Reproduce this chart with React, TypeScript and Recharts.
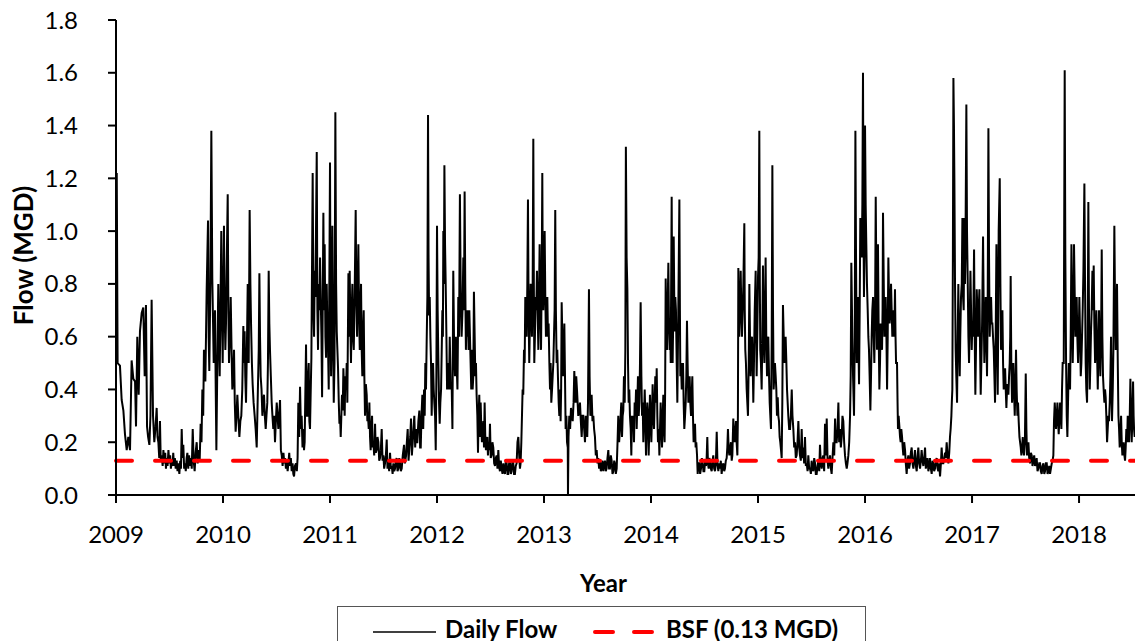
import React from 'react';
import { LineChart, Line, XAxis, YAxis, ReferenceLine } from 'recharts';

const START_YEAR = 2009;
const END_YEAR = 2018.523;
const yearTicks = [2009, 2010, 2011, 2012, 2013, 2014, 2015, 2016, 2017, 2018];
const flowTicks = [0, 0.2, 0.4, 0.6, 0.8, 1.0, 1.2, 1.4, 1.6, 1.8];
const BSF = 0.13;
const seriesNames = ['Daily Flow', 'BSF (0.13 MGD)'];

// [years since 1 Jan 2009, flow in MGD]
const dailyFlowReadings: [number, number][] = [
  [0.007,1.22],[0.015,0.5],[0.037,0.49],[0.053,0.36],[0.069,0.32],[0.084,0.23],[0.1,0.17],[0.115,0.22],[0.131,0.17],[0.146,0.51],[0.162,0.44],[0.178,0.43],[0.187,0.26],[0.199,0.6],[0.212,0.38],[0.224,0.62],[0.24,0.69],[0.255,0.71],[0.268,0.45],[0.28,0.72],[0.29,0.26],[0.3,0.22],[0.312,0.19],[0.322,0.3],[0.333,0.74],[0.346,0.3],[0.358,0.2],[0.37,0.26],[0.38,0.33],[0.388,0.22],[0.396,0.2],
  [0.404,0.14],[0.411,0.28],[0.418,0.13],[0.427,0.15],[0.436,0.11],[0.443,0.17],[0.452,0.12],[0.46,0.16],[0.467,0.1],[0.474,0.14],[0.482,0.11],[0.49,0.17],[0.498,0.12],[0.506,0.15],[0.513,0.1],[0.52,0.13],[0.528,0.11],[0.535,0.16],[0.542,0.11],[0.55,0.14],[0.558,0.1],[0.567,0.13],[0.575,0.09],[0.583,0.12],[0.592,0.08],[0.6,0.13],[0.607,0.1],[0.614,0.25],[0.621,0.14],[0.629,0.19],[0.637,0.1],[0.645,0.12],[0.652,0.09],[0.66,0.14],[0.667,0.16],[0.675,0.1],[0.683,0.15],[0.692,0.11],[0.7,0.14],[0.708,0.1],[0.717,0.25],[0.726,0.13],[0.735,0.09],[0.744,0.16],[0.754,0.2],[0.763,0.12],[0.773,0.17],[0.782,0.13],[0.791,0.27],[0.799,0.2],
  [0.807,0.4],[0.815,0.3],[0.822,0.55],[0.835,0.43],[0.847,0.77],[0.86,1.04],[0.866,0.6],[0.872,0.47],[0.882,0.8],[0.891,1.38],[0.9,0.82],[0.907,0.65],[0.913,0.5],[0.925,0.7],[0.932,0.4],[0.938,0.17],[0.947,0.5],[0.956,0.8],[0.962,0.6],[0.969,0.45],[0.976,0.7],[0.984,1.0],[0.99,0.7],[0.997,0.5],[1.003,0.75],[1.009,1.02],[1.015,0.7],[1.022,0.55],[1.028,0.65],[1.034,0.85],[1.044,1.14],[1.05,0.7],[1.056,0.5],[1.064,0.6],[1.072,0.75],[1.08,0.55],[1.087,0.4],[1.095,0.45],[1.103,0.55],[1.11,0.35],[1.118,0.24],[1.126,0.3],[1.134,0.38],[1.143,0.3],[1.153,0.22],[1.162,0.28],[1.171,0.3],[1.18,0.4],[1.19,0.64],[1.196,0.5],[1.202,0.62],[1.208,0.45],[1.215,0.35],[1.223,0.55],[1.231,0.8],[1.236,0.6],[1.24,0.5],[1.249,1.08],[1.256,0.8],[1.262,0.65],[1.27,0.5],[1.277,0.42],[1.286,0.35],[1.296,0.3],[1.305,0.25],[1.315,0.18],[1.321,0.3],[1.327,0.42],[1.334,0.55],[1.34,0.84],[1.346,0.6],[1.352,0.45],[1.36,0.4],[1.368,0.3],[1.375,0.35],[1.383,0.38],[1.391,0.3],[1.399,0.25],[1.406,0.3],[1.414,0.35],[1.42,0.5],[1.427,0.85],[1.433,0.65],[1.439,0.55],[1.447,0.45],[1.455,0.35],[1.462,0.3],[1.47,0.25],[1.478,0.3],[1.486,0.2],[1.494,0.28],[1.502,0.35],[1.51,0.3],[1.517,0.25],
  [1.525,0.3],[1.533,0.36],[1.541,0.17],[1.549,0.15],[1.557,0.11],[1.565,0.16],[1.573,0.12],[1.58,0.14],[1.588,0.1],[1.596,0.13],[1.604,0.09],[1.611,0.12],[1.619,0.16],[1.626,0.11],[1.634,0.14],[1.642,0.09],[1.65,0.12],[1.657,0.08],[1.664,0.07],[1.672,0.11],[1.682,0.12],[1.69,0.09],[1.697,0.14],[1.704,0.35],[1.712,0.22],[1.72,0.41],[1.728,0.25],[1.735,0.3],[1.743,0.18],[1.751,0.25],[1.757,0.17],[1.763,0.2],[1.776,0.57],[1.782,0.3],[1.788,0.3],[1.795,0.45],[1.801,0.5],[1.807,0.28],[1.813,0.25],[1.82,0.4],[1.826,0.52],[1.838,1.22],[1.845,0.7],[1.851,0.6],[1.857,0.85],[1.863,0.75],[1.876,1.3],[1.882,0.7],[1.888,0.55],[1.895,0.8],[1.901,0.7],[1.907,0.9],[1.913,0.75],[1.92,0.6],[1.926,0.37],[1.938,1.07],[1.944,0.7],[1.95,0.95],[1.957,0.6],[1.963,0.52],[1.969,0.8],[1.975,0.65],[1.982,0.55],[1.988,0.4],[2.0,1.26],[2.005,0.7],[2.01,0.45],[2.016,0.6],[2.022,1.02],[2.029,0.6],[2.035,0.35],[2.042,0.5],[2.05,1.45],[2.057,0.8],[2.063,0.62],[2.069,0.55],[2.075,0.48],[2.082,0.35],[2.088,0.27],[2.094,0.3],[2.1,0.22],[2.106,0.3],[2.112,0.38],[2.119,0.32],[2.125,0.48],[2.131,0.4],[2.137,0.3],[2.143,0.45],[2.15,0.4],[2.156,0.5],[2.162,0.35],[2.172,0.84],[2.178,0.6],[2.184,0.85],[2.19,0.65],[2.196,0.5],[2.203,0.7],[2.209,0.8],[2.215,0.6],[2.222,0.55],[2.23,0.75],[2.24,1.08],[2.246,0.75],[2.253,0.6],[2.259,0.8],[2.265,0.95],[2.271,0.7],[2.278,0.55],[2.284,0.7],[2.29,0.8],[2.296,0.55],[2.302,0.45],[2.308,0.6],[2.315,0.7],[2.321,0.45],[2.327,0.3],[2.335,0.42],[2.343,0.38],[2.349,0.28],[2.355,0.3],[2.362,0.25],[2.368,0.35],[2.374,0.22],[2.38,0.17],[2.386,0.25],[2.393,0.3],[2.399,0.18],[2.405,0.2],[2.413,0.15],[2.421,0.27],[2.428,0.16],[2.436,0.17],[2.444,0.22],[2.452,0.2],[2.46,0.13],[2.467,0.14],[2.475,0.17],[2.483,0.25],[2.491,0.13],[2.499,0.15],[2.506,0.1],[2.514,0.12],[2.522,0.15],[2.53,0.21],[2.537,0.1],[2.545,0.13],[2.553,0.09],[2.561,0.16],[2.569,0.1],[2.577,0.11],[2.585,0.08],[2.592,0.12],[2.6,0.09],[2.608,0.1],[2.616,0.13],[2.623,0.14],[2.631,0.09],[2.639,0.1],[2.647,0.14],[2.654,0.12],[2.662,0.09],[2.67,0.1],[2.68,0.15],[2.692,0.19],[2.7,0.12],[2.711,0.15],[2.718,0.2],[2.726,0.25],[2.734,0.13],[2.742,0.18],[2.75,0.22],[2.757,0.29],[2.765,0.15],[2.773,0.2],[2.78,0.25],[2.788,0.3],[2.796,0.18],[2.804,0.25],[2.81,0.2],[2.816,0.2],[2.826,0.28],[2.835,0.32],[2.842,0.18],[2.848,0.18],[2.855,0.3],[2.863,0.38],[2.871,0.25],[2.879,0.4],[2.885,0.3],[2.891,0.5],[2.897,0.4],[2.904,0.6],[2.91,0.75],[2.916,1.44],[2.921,0.9],[2.926,0.68],[2.932,0.75],[2.938,0.6],[2.944,0.5],[2.95,0.3],[2.957,0.45],[2.963,0.5],[2.969,0.4],[2.975,0.35],[2.982,0.3],[2.988,0.17],[2.994,0.45],[3.0,1.02],[3.006,0.7],[3.013,0.5],[3.019,0.35],[3.025,0.27],[3.031,0.35],[3.038,0.4],[3.044,0.55],[3.05,0.7],[3.055,0.6],[3.059,1.0],[3.064,0.8],[3.069,1.25],[3.075,0.95],[3.081,0.8],[3.088,0.6],[3.094,0.4],[3.1,0.45],[3.106,0.5],[3.112,0.4],[3.119,0.6],
  [3.129,0.4],[3.137,0.42],[3.144,0.25],[3.152,0.85],[3.16,0.55],[3.168,0.45],[3.176,0.6],[3.183,0.5],[3.191,0.4],[3.199,0.75],[3.206,0.6],[3.214,1.14],[3.222,0.75],[3.23,0.6],[3.238,0.7],[3.246,0.9],[3.252,0.7],[3.258,1.15],[3.264,0.8],[3.27,0.55],[3.277,0.7],[3.283,0.6],[3.289,0.7],[3.295,0.55],[3.302,0.7],[3.308,0.6],[3.314,0.5],[3.32,0.4],[3.327,0.55],[3.333,0.4],[3.339,0.45],[3.345,0.77],[3.352,0.6],[3.358,0.45],[3.364,0.5],[3.37,0.38],[3.377,0.3],[3.383,0.16],[3.389,0.3],[3.395,0.38],[3.402,0.22],[3.408,0.35],[3.414,0.25],[3.42,0.2],[3.427,0.25],[3.433,0.28],[3.439,0.18],[3.445,0.35],[3.451,0.22],[3.457,0.17],[3.463,0.2],[3.47,0.22],[3.476,0.15],[3.482,0.2],[3.489,0.17],[3.495,0.27],[3.502,0.14],[3.51,0.15],[3.518,0.2],[3.526,0.18],[3.534,0.12],[3.542,0.11],[3.55,0.14],[3.557,0.15],[3.565,0.1],[3.573,0.17],[3.58,0.11],[3.588,0.09],[3.596,0.13],[3.604,0.1],[3.612,0.08],[3.62,0.12],[3.627,0.09],[3.635,0.08],[3.643,0.13],[3.651,0.12],[3.659,0.08],[3.666,0.08],[3.674,0.12],[3.682,0.12],[3.69,0.08],[3.697,0.09],[3.705,0.13],[3.713,0.12],[3.72,0.08],[3.728,0.08],[3.736,0.11],[3.744,0.12],[3.752,0.2],[3.76,0.22],[3.768,0.15],[3.775,0.1],[3.781,0.12],[3.788,0.2],[3.794,0.3],[3.8,0.4],[3.806,0.38],[3.813,0.55],[3.819,0.5],[3.825,0.75],[3.831,0.65],[3.838,0.6],[3.844,0.8],[3.85,1.12],[3.856,0.7],[3.862,0.5],[3.868,0.65],[3.875,0.8],[3.881,0.7],[3.887,0.6],[3.894,0.8],[3.9,1.35],[3.905,0.8],[3.909,0.5],[3.915,0.6],[3.922,0.75],[3.928,0.7],[3.934,0.85],[3.94,0.7],[3.947,0.55],[3.953,0.75],[3.959,0.95],[3.965,0.7],[3.972,0.55],[3.978,0.8],[3.984,1.22],[3.988,0.85],[3.993,0.7],[3.999,0.8],[4.006,1.0],[4.012,0.75],[4.018,0.6],[4.024,0.7],[4.031,0.75],[4.037,0.6],[4.043,0.65],[4.05,0.5],[4.056,0.4],[4.062,0.5],[4.068,0.35],[4.075,0.4],[4.081,0.45],[4.087,0.5],[4.093,0.6],[4.099,0.7],[4.105,1.08],[4.111,0.7],[4.118,0.5],[4.124,0.55],[4.13,0.45],[4.137,0.35],[4.143,0.3],[4.149,0.4],[4.155,0.28],[4.16,0.4],[4.165,0.73],[4.171,0.6],[4.177,0.45],[4.184,0.55],[4.19,0.65],[4.196,0.45],[4.202,0.25],[4.209,0.3],[4.215,0.2],[4.222,0.18],[4.224,0.0],[4.229,0.22],[4.236,0.3],[4.244,0.25],[4.252,0.33],[4.26,0.3],[4.268,0.28],[4.276,0.35],[4.283,0.47],[4.289,0.4],[4.295,0.35],[4.301,0.45],[4.308,0.4],[4.314,0.35],[4.32,0.3],[4.328,0.32],[4.336,0.35],[4.344,0.28],[4.352,0.22],[4.36,0.3],[4.367,0.3],[4.375,0.25],[4.383,0.2],[4.39,0.3],[4.398,0.25],[4.404,0.22],[4.411,0.35],[4.42,0.78],[4.426,0.45],[4.433,0.3],[4.439,0.35],[4.445,0.38],[4.453,0.28],[4.461,0.3],[4.468,0.25],[4.476,0.22],[4.484,0.15],[4.492,0.17],[4.5,0.12],[4.507,0.14],[4.515,0.1],[4.523,0.13],[4.531,0.09],[4.539,0.1],[4.546,0.13],[4.554,0.09],[4.562,0.12],[4.57,0.13],[4.577,0.09],[4.585,0.1],[4.593,0.14],[4.601,0.17],[4.608,0.1],[4.616,0.1],[4.624,0.15],[4.632,0.13],[4.64,0.08],[4.648,0.09],[4.656,0.13],[4.663,0.12],[4.671,0.08],[4.679,0.1],[4.687,0.2],[4.694,0.3],[4.702,0.2],[4.71,0.25],
  [4.716,0.3],[4.722,0.35],[4.729,0.22],[4.735,0.3],[4.741,0.32],[4.747,0.45],[4.754,0.35],[4.76,0.55],[4.765,1.32],[4.772,0.9],[4.779,0.78],[4.785,0.5],[4.791,0.35],[4.797,0.4],[4.803,0.3],[4.81,0.25],[4.816,0.15],[4.822,0.3],[4.828,0.25],[4.835,0.3],[4.841,0.2],[4.847,0.35],[4.853,0.3],[4.86,0.4],[4.866,0.25],[4.872,0.35],[4.878,0.45],[4.885,0.3],[4.891,0.35],[4.897,0.5],[4.903,0.73],[4.91,0.45],[4.916,0.3],[4.922,0.35],[4.928,0.2],[4.935,0.3],[4.941,0.4],[4.947,0.3],[4.953,0.15],[4.959,0.25],[4.965,0.35],[4.972,0.3],[4.978,0.15],[4.984,0.25],[4.99,0.38],[4.997,0.3],[5.003,0.2],[5.009,0.3],[5.015,0.42],[5.022,0.3],[5.028,0.25],[5.034,0.35],[5.04,0.45],[5.047,0.35],[5.053,0.48],[5.059,0.3],[5.065,0.2],[5.072,0.25],[5.078,0.15],[5.084,0.25],[5.09,0.35],[5.097,0.25],[5.103,0.18],[5.109,0.3],[5.115,0.38],[5.121,0.25],[5.127,0.2],[5.132,0.4],[5.137,0.82],[5.143,0.65],[5.149,0.55],[5.155,0.7],[5.162,0.88],[5.168,0.65],[5.174,0.55],[5.179,0.65],[5.184,0.5],[5.193,1.13],[5.198,0.7],[5.202,0.5],[5.207,0.65],[5.212,0.98],[5.217,0.75],[5.221,0.62],[5.227,0.75],[5.233,0.7],[5.24,0.5],[5.246,0.35],[5.25,0.5],[5.255,0.7],[5.265,1.12],[5.27,0.7],[5.274,0.45],[5.28,0.5],[5.287,0.4],[5.293,0.45],[5.299,0.5],[5.305,0.35],[5.311,0.25],[5.318,0.3],[5.324,0.35],[5.33,0.45],[5.336,0.66],[5.342,0.5],[5.349,0.35],[5.355,0.42],[5.361,0.45],[5.367,0.35],[5.374,0.3],[5.38,0.38],[5.386,0.45],[5.392,0.3],[5.398,0.2],[5.405,0.22],[5.411,0.27],[5.417,0.18],[5.423,0.2],[5.43,0.15],[5.436,0.08],[5.443,0.12],[5.451,0.12],[5.459,0.08],[5.467,0.1],[5.475,0.14],[5.483,0.12],[5.49,0.09],[5.498,0.09],[5.506,0.13],[5.514,0.11],[5.52,0.14],[5.526,0.22],[5.532,0.12],[5.539,0.1],[5.545,0.14],[5.551,0.13],[5.559,0.1],[5.567,0.09],[5.575,0.13],[5.582,0.15],[5.59,0.1],[5.598,0.09],[5.606,0.12],[5.614,0.24],[5.621,0.12],[5.629,0.09],[5.637,0.12],[5.645,0.1],[5.652,0.13],[5.66,0.08],[5.668,0.11],[5.676,0.12],[5.684,0.09],[5.691,0.1],[5.699,0.13],[5.707,0.14],[5.713,0.18],[5.719,0.25],[5.726,0.17],[5.732,0.15],[5.74,0.18],[5.747,0.2],[5.754,0.13],[5.76,0.15],[5.769,0.29],[5.776,0.22],[5.782,0.2],[5.788,0.24],[5.794,0.28],[5.8,0.2],[5.807,0.15],[5.812,0.3],[5.816,0.86],[5.82,0.7],[5.825,0.6],[5.831,0.7],[5.838,0.85],[5.844,0.7],[5.85,0.6],[5.857,0.7],[5.863,0.8],[5.872,1.03],[5.876,0.7],[5.881,0.55],[5.887,0.5],[5.894,0.4],[5.9,0.35],[5.906,0.3],[5.913,0.5],[5.919,0.8],[5.925,0.6],[5.931,0.45],[5.937,0.55],[5.944,0.6],[5.95,0.5],[5.956,0.35],[5.962,0.5],[5.969,0.7],[5.978,0.85],[5.983,0.6],[5.987,0.45],[5.993,0.6],[6.0,0.83],[6.006,0.9],[6.012,1.38],[6.017,0.8],[6.021,0.55],[6.027,0.5],[6.034,0.4],[6.04,0.6],[6.046,0.87],[6.052,0.6],[6.059,0.5],[6.065,0.7],[6.071,0.9],[6.077,0.6],[6.084,0.45],[6.09,0.55],[6.096,0.6],[6.103,0.45],[6.109,0.35],[6.115,0.3],[6.121,0.25],[6.128,0.6],[6.134,1.25],[6.14,0.7],[6.146,0.4],[6.152,0.45],[6.158,0.5],[6.165,0.45],[6.171,0.4],[6.177,0.3],[6.184,0.37],[6.19,0.3],[6.196,0.28],[6.202,0.22],[6.208,0.2],[6.215,0.17],[6.221,0.14],[6.227,0.35],[6.233,0.72],[6.24,0.6],[6.246,0.5],[6.252,0.55],[6.258,0.6],[6.265,0.5],[6.271,0.4],[6.277,0.35],[6.283,0.3],[6.291,0.25],
  [6.299,0.25],[6.307,0.3],[6.315,0.4],[6.322,0.3],[6.33,0.25],[6.338,0.18],[6.346,0.2],[6.353,0.14],[6.361,0.15],[6.369,0.2],[6.377,0.28],[6.385,0.18],[6.392,0.15],[6.4,0.13],[6.408,0.25],[6.416,0.14],[6.424,0.18],[6.431,0.12],[6.439,0.22],[6.447,0.11],[6.455,0.12],[6.463,0.09],[6.47,0.15],[6.478,0.1],[6.486,0.1],[6.494,0.08],[6.501,0.13],[6.509,0.1],[6.517,0.09],[6.525,0.14],[6.533,0.12],[6.54,0.08],[6.548,0.08],[6.556,0.11],[6.564,0.13],[6.572,0.09],[6.579,0.19],[6.587,0.12],[6.595,0.1],[6.603,0.14],[6.61,0.15],[6.618,0.09],[6.626,0.27],[6.634,0.15],[6.642,0.29],[6.65,0.13],[6.657,0.1],[6.665,0.13],[6.673,0.15],[6.681,0.1],[6.688,0.08],[6.696,0.14],[6.704,0.2],[6.712,0.15],[6.72,0.29],[6.727,0.2],[6.735,0.2],[6.743,0.25],[6.751,0.35],[6.758,0.2],[6.766,0.25],[6.774,0.18],[6.782,0.22],[6.789,0.3],[6.797,0.28],[6.805,0.2],[6.813,0.15],[6.821,0.12],[6.829,0.1],[6.836,0.12],[6.844,0.15],[6.852,0.2],[6.86,0.3],[6.866,0.45],[6.872,0.88],[6.878,0.7],[6.885,0.5],[6.891,0.4],[6.897,0.3],[6.904,0.6],[6.91,1.38],[6.916,0.9],[6.922,0.5],[6.928,0.6],[6.934,0.75],[6.939,0.55],[6.944,0.42],[6.95,0.7],[6.956,1.05],[6.962,0.95],[6.969,0.9],[6.975,1.1],[6.981,1.6],[6.986,1.0],[6.99,0.75],[6.995,0.9],[7.0,1.4],[7.006,1.1],[7.012,0.95],[7.018,0.8],[7.025,0.7],[7.031,0.6],[7.037,0.55],[7.043,0.45],[7.05,0.32],[7.056,0.45],[7.062,0.6],[7.068,0.7],[7.075,0.75],[7.081,0.6],[7.087,0.5],[7.094,0.7],[7.1,1.13],[7.106,0.8],[7.112,0.55],[7.117,0.7],[7.121,0.95],[7.128,0.6],[7.134,0.4],[7.14,0.5],[7.146,0.65],[7.152,0.6],[7.159,0.55],[7.164,0.7],[7.168,1.07],[7.175,0.8],[7.181,0.6],[7.187,0.7],[7.193,0.75],[7.2,0.6],[7.206,0.4],[7.212,0.6],[7.218,0.9],[7.224,0.75],[7.23,0.65],[7.237,0.7],[7.243,0.8],[7.249,0.7],[7.255,0.6],[7.262,0.65],[7.268,0.7],[7.274,0.6],[7.28,0.78],[7.285,0.6],[7.29,0.5],[7.299,0.5],[7.304,0.35],[7.308,0.25],[7.314,0.3],[7.321,0.26],[7.327,0.22],[7.333,0.2],[7.339,0.25],[7.346,0.22],[7.352,0.18],[7.358,0.15],[7.366,0.2],[7.374,0.17],[7.381,0.12],[7.389,0.08],[7.397,0.13],[7.405,0.15],[7.412,0.1],[7.42,0.12],[7.428,0.16],[7.436,0.18],[7.444,0.12],[7.452,0.1],[7.46,0.14],[7.467,0.17],[7.475,0.11],[7.483,0.09],[7.49,0.14],[7.498,0.18],[7.506,0.12],[7.514,0.1],[7.522,0.13],[7.529,0.17],[7.537,0.13],[7.545,0.11],[7.553,0.14],[7.561,0.18],[7.568,0.1],[7.576,0.12],[7.584,0.14],[7.592,0.09],[7.6,0.11],[7.607,0.14],[7.615,0.1],[7.623,0.08],[7.631,0.13],[7.639,0.12],[7.646,0.09],[7.654,0.1],[7.662,0.13],[7.67,0.14],[7.678,0.1],[7.685,0.09],[7.693,0.12],[7.701,0.07],[7.709,0.12],[7.716,0.18],[7.724,0.12],[7.732,0.12],[7.74,0.14],[7.748,0.16],[7.755,0.14],[7.763,0.2],[7.771,0.15],[7.779,0.12],[7.787,0.16],[7.794,0.22],[7.8,0.25],[7.807,0.3],[7.811,0.35],[7.816,0.4],[7.821,0.9],[7.826,1.58],[7.831,1.4],[7.835,1.2],[7.841,0.8],[7.847,0.55],[7.853,0.45],[7.86,0.35],[7.866,0.6],[7.872,0.8],[7.878,0.6],[7.885,0.45],[7.89,0.6],[7.897,0.75],[7.904,0.8],
  [7.91,1.05],[7.916,0.75],[7.922,0.7],[7.928,1.05],[7.934,0.8],[7.938,0.9],[7.947,1.48],[7.953,1.0],[7.96,0.8],[7.966,0.6],[7.972,0.5],[7.978,0.65],[7.985,0.85],[7.991,0.7],[7.997,0.55],[8.003,0.65],[8.01,0.6],[8.019,0.93],[8.025,0.6],[8.031,0.38],[8.037,0.55],[8.044,0.78],[8.05,0.7],[8.056,0.6],[8.062,0.7],[8.069,0.78],[8.075,0.55],[8.081,0.38],[8.087,0.5],[8.094,0.65],[8.103,0.98],[8.109,0.7],[8.115,0.5],[8.121,0.6],[8.128,0.75],[8.134,0.6],[8.14,0.45],[8.146,0.7],[8.153,1.39],[8.159,0.9],[8.165,0.6],[8.171,0.7],[8.178,0.75],[8.184,0.65],[8.19,0.65],[8.196,0.6],[8.203,0.55],[8.209,0.45],[8.215,0.35],[8.221,0.6],[8.228,0.95],[8.234,0.6],[8.24,0.38],[8.244,0.6],[8.249,1.0],[8.259,1.2],[8.265,0.8],[8.271,0.55],[8.277,0.6],[8.284,0.7],[8.29,0.5],[8.296,0.4],[8.302,0.45],[8.309,0.48],[8.315,0.4],[8.321,0.33],[8.327,0.4],[8.333,0.42],[8.34,0.38],[8.346,0.45],[8.352,0.5],[8.357,0.6],[8.361,0.83],[8.367,0.5],[8.374,0.35],[8.38,0.4],[8.386,0.5],[8.392,0.4],[8.399,0.3],[8.405,0.4],[8.411,0.55],[8.417,0.4],[8.424,0.3],[8.43,0.35],[8.436,0.28],[8.443,0.22],[8.449,0.2],[8.455,0.18],[8.461,0.15],[8.468,0.18],[8.474,0.22],[8.48,0.17],[8.486,0.15],[8.494,0.2],[8.502,0.46],[8.508,0.25],[8.514,0.15],[8.52,0.18],[8.527,0.2],[8.534,0.14],[8.542,0.12],[8.55,0.16],[8.558,0.15],[8.565,0.11],[8.573,0.13],[8.581,0.15],[8.589,0.11],[8.597,0.12],[8.604,0.14],[8.612,0.09],[8.62,0.1],[8.628,0.12],[8.636,0.12],[8.643,0.09],[8.651,0.08],[8.659,0.11],[8.667,0.12],[8.675,0.08],[8.682,0.09],[8.69,0.12],[8.698,0.12],[8.706,0.08],[8.714,0.09],[8.721,0.11],[8.729,0.08],[8.737,0.1],[8.745,0.12],[8.753,0.13],[8.76,0.15],[8.766,0.28],[8.773,0.35],[8.779,0.3],[8.785,0.25],[8.792,0.3],[8.798,0.35],[8.804,0.28],[8.81,0.23],[8.817,0.3],[8.823,0.35],[8.829,0.3],[8.835,0.25],[8.841,0.4],[8.847,0.5],[8.857,0.5],[8.866,1.61],[8.872,0.9],[8.879,0.5],[8.885,0.3],[8.891,0.22],[8.897,0.35],[8.904,0.5],[8.91,0.45],[8.916,0.4],[8.922,0.6],[8.929,0.95],[8.935,0.7],[8.941,0.5],[8.947,0.65],[8.953,0.95],[8.96,0.75],[8.966,0.6],[8.972,0.65],[8.978,0.75],[8.984,0.6],[8.991,0.5],[8.997,0.6],[9.003,0.75],[9.01,0.6],[9.016,0.45],[9.022,0.5],[9.028,0.6],[9.034,0.7],[9.041,0.85],[9.05,1.18],[9.056,0.8],[9.062,0.5],[9.068,0.4],[9.075,0.35],[9.081,0.6],[9.087,1.11],[9.093,0.7],[9.1,0.4],[9.106,0.5],[9.112,0.62],[9.118,0.7],[9.125,0.85],[9.131,0.7],[9.137,0.87],[9.143,0.65],[9.15,0.5],[9.156,0.6],[9.162,0.7],[9.168,0.55],[9.175,0.4],[9.181,0.55],[9.187,0.7],[9.193,0.55],[9.199,0.45],[9.206,0.6],[9.212,0.93],[9.218,0.6],[9.224,0.45],[9.23,0.4],[9.237,0.35],[9.243,0.4],[9.249,0.37],[9.255,0.3],[9.262,0.2],[9.268,0.25],[9.274,0.3],[9.28,0.28],[9.287,0.35],[9.293,0.45],[9.299,0.6],[9.304,0.4],[9.308,0.28],[9.315,0.4],[9.321,0.55],[9.33,1.02],[9.337,0.7],[9.343,0.55],[9.349,0.65],[9.355,0.8],[9.362,0.5],[9.368,0.3],[9.374,0.25],[9.38,0.18],[9.387,0.22],[9.393,0.3],[9.399,0.2],[9.405,0.15],[9.411,0.18],[9.417,0.2],[9.424,0.15],[9.43,0.13],[9.436,0.18],[9.442,0.25],[9.449,0.2],[9.455,0.3],[9.461,0.25],[9.467,0.2],[9.474,0.3],[9.48,0.44],[9.486,0.3],[9.492,0.2],[9.499,0.3],[9.505,0.43],[9.51,0.3],[9.514,0.25],[9.52,0.22]
];

const data = dailyFlowReadings.map(([t, v]) => ({ year: START_YEAR + t, flow: v }));

const FONT = 'Lato, "Open Sans", sans-serif';

const YTitle = (props: any) => {
  const vb = props.viewBox || { x: 0, y: 20, width: 116, height: 475 };
  const cx = vb.x + 33;
  const cy = vb.y + vb.height / 2 - 2;
  return (
    <text x={cx} y={cy} transform={`rotate(-90 ${cx} ${cy})`} textAnchor="middle"
      fontFamily={FONT} fontWeight={700} fontSize={26} fill="#000">Flow (MGD)</text>
  );
};

const XTitle = (props: any) => {
  const vb = props.viewBox || { x: 116, y: 495, width: 1019, height: 146 };
  const cx = vb.x + vb.width / 2 - 22;
  const cy = vb.y + 97;
  return (
    <text x={cx} y={cy} textAnchor="middle" fontFamily={FONT} fontWeight={700} fontSize={24} fill="#000">Year</text>
  );
};

const LegendBox = () => (
  <div style={{ position: 'absolute', left: 337, top: 606, width: 529, height: 50, border: '1px solid #555', background: '#fff', boxSizing: 'border-box' }}>
    <svg width={527} height={48} style={{ display: 'block' }}>
      <line x1={35} y1={25} x2={98} y2={25} stroke="#000" strokeWidth={1.6} />
      <text x={107} y={31} fontFamily={FONT} fontWeight={700} fontSize={24} fill="#000">{seriesNames[0]}</text>
      <line x1={257} y1={25} x2={316} y2={25} stroke="#ff0000" strokeWidth={4} strokeDasharray="18 21" strokeLinecap="round" />
      <text x={328} y={31} fontFamily={FONT} fontWeight={700} fontSize={24} fill="#000">{seriesNames[1]}</text>
    </svg>
  </div>
);

export default function App() {
  return (
    <div style={{ position: 'absolute', left: 0, top: 0, width: 1135, height: 641, background: '#fff', overflow: 'hidden' }}>
      <LineChart width={1135} height={641} data={data} margin={{ top: 20, right: 0, bottom: 0, left: 0 }}>
        <XAxis dataKey="year" type="number" domain={[START_YEAR, END_YEAR]} ticks={yearTicks} interval={0}
          allowDataOverflow height={146} tickSize={8} tickMargin={23}
          tick={{ fontSize: 24, fill: '#000', fontFamily: FONT }}
          axisLine={{ stroke: '#000', strokeWidth: 2 }} tickLine={{ stroke: '#000', strokeWidth: 2 }}
          tickFormatter={(v: number) => String(Math.round(v))}
          label={{ content: XTitle }} />
        <YAxis type="number" domain={[0, 1.8]} ticks={flowTicks} interval={0} width={116}
          tickSize={8} tickMargin={30} allowDataOverflow
          tick={{ fontSize: 24, fill: '#000', fontFamily: FONT }}
          axisLine={{ stroke: '#000', strokeWidth: 2 }} tickLine={{ stroke: '#000', strokeWidth: 2 }}
          tickFormatter={(v: number) => v.toFixed(1)}
          label={{ content: YTitle }} />
        <Line type="linear" dataKey="flow" name={seriesNames[0]} stroke="#000" strokeWidth={2} dot={false} activeDot={false} isAnimationActive={false} />
        <ReferenceLine y={BSF} stroke="#ff0000" strokeWidth={4} strokeDasharray="16 23" strokeLinecap="round" ifOverflow="extendDomain" />
      </LineChart>
      <LegendBox />
    </div>
  );
}
